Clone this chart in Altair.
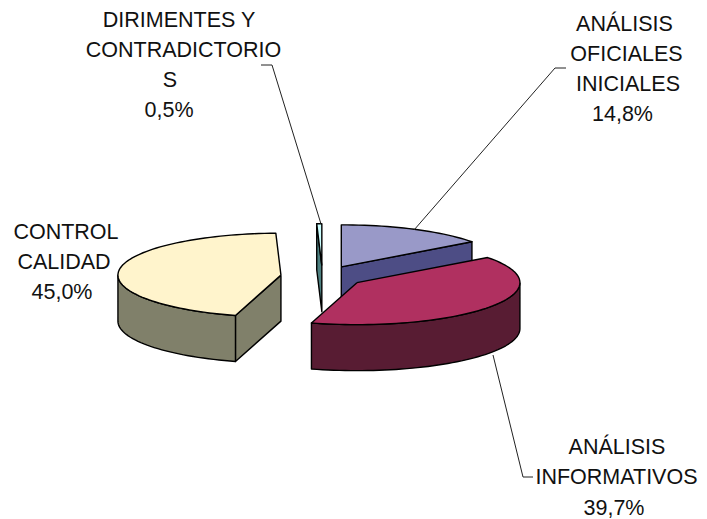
import math
import altair as alt
import pandas as pd

# Chart values
categories = ["ANÁLISIS OFICIALES INICIALES", "ANÁLISIS INFORMATIVOS", "CONTROL CALIDAD", "DIRIMENTES Y CONTRADICTORIOS"]
shares = [14.8, 39.7, 45.0, 0.5]
top_colors = ["#9999C8", "#B03060", "#FFF4CC", "#CCFFFF"]
wall_colors = ["#4D4D85", "#581C33", "#80806A", "#4D8080"]
draw_order = [2, 3, 0, 1]

label_lines = [
    ["DIRIMENTES Y", "CONTRADICTORIO", "S", "0,5%"],
    ["ANÁLISIS", "OFICIALES", "INICIALES", "14,8%"],
    ["CONTROL", "CALIDAD", "45,0%"],
    ["ANÁLISIS", "INFORMATIVOS", "39,7%"],
]
label_x = [
    [179, 183.5, 170, 169],
    [624.5, 626.5, 628, 622.5],
    [66, 64, 62],
    [617, 616.5, 614],
]
label_y = [
    [27, 57, 87, 117],
    [31, 61, 91, 121],
    [239, 269, 299],
    [454, 484, 515],
]

leader_x = [[261, 272, 321], [566, 555, 414], [493, 523, 533]]
leader_y = [[65, 65, 224], [68, 68, 230], [355, 477, 477]]

# 3D pie projection parameters
CX, CY = 322.5, 276.5
A, B = 163.0, 42.0
DEPTH = 46.0
EXPLODE = 0.257
FONT = "Liberation Sans"


def pt(cx, cy, deg):
    t = math.radians(deg)
    return cx + A * math.sin(t), cy - B * math.cos(t)


def arc(cx, cy, a0, a1, step=2.0):
    n = max(2, int(abs(a1 - a0) / step) + 1)
    return [pt(cx, cy, a0 + (a1 - a0) * i / (n - 1)) for i in range(n)]


X = alt.X("x:Q", scale=alt.Scale(domain=[8, 699], nice=False, zero=False), axis=None)
Y = alt.Y("y:Q", scale=alt.Scale(domain=[519, 8], nice=False, zero=False), axis=None)


def polygon_layer(points, color):
    pts = list(points) + [points[0]]
    df = pd.DataFrame({"x": [p[0] for p in pts], "y": [p[1] for p in pts], "i": range(len(pts))})
    return (
        alt.Chart(df)
        .mark_line(fill=color, stroke="black", strokeWidth=1.4, strokeJoin="round", clip=False)
        .encode(x=X, y=Y, order="i:Q")
    )


# Slice angles from the shares
spans = []
start = 0.0
for s in shares:
    end = start + s * 3.6
    spans.append((start, end))
    start = end

layers = []
for k in draw_order:
    a0, a1 = spans[k]
    mid = (a0 + a1) / 2
    cx, cy = pt(CX, CY, mid)
    cx = CX + (cx - CX) * EXPLODE
    cy = CY + (cy - CY) * EXPLODE
    top = [(cx, cy)] + arc(cx, cy, a0, a1)

    # walls: radial faces that look to the viewer, then the front part of the rim
    if k == 0:
        e = pt(cx, cy, a1)
        layers.append(polygon_layer([(cx, cy), e, (e[0], e[1] + DEPTH), (cx, cy + DEPTH)], wall_colors[k]))
    if k in (2, 3):
        e = pt(cx, cy, a0)
        layers.append(polygon_layer([(cx, cy), e, (e[0], e[1] + DEPTH), (cx, cy + DEPTH)], wall_colors[k]))
    r0, r1 = max(a0, 90), min(a1, 270)
    if r0 < r1:
        rim = arc(cx, cy, r0, r1)
        low = [(x, y + DEPTH) for x, y in reversed(rim)]
        layers.append(polygon_layer(rim + low, wall_colors[k]))
    layers.append(polygon_layer(top, top_colors[k]))

# Leader lines
for lx, ly in zip(leader_x, leader_y):
    df = pd.DataFrame({"x": lx, "y": ly, "i": range(len(lx))})
    layers.append(alt.Chart(df).mark_line(color="#222222", strokeWidth=1).encode(x=X, y=Y, order="i:Q"))

# Labels
rows = []
for lines, xs, ys in zip(label_lines, label_x, label_y):
    for t, x0, y0 in zip(lines, xs, ys):
        rows.append({"x": x0, "y": y0, "t": t})
labels = (
    alt.Chart(pd.DataFrame(rows))
    .mark_text(font=FONT, fontSize=21.5, color="#111111", align="center", baseline="alphabetic")
    .encode(x=X, y=Y, text="t:N")
)
layers.append(labels)

chart = (
    alt.layer(*layers)
    .properties(width=691, height=511, padding=0, autosize=alt.AutoSizeParams(type="none"))
    .configure_view(stroke=None)
)
chart.save("out.html", embed_options={"renderer": "svg", "actions": False})
